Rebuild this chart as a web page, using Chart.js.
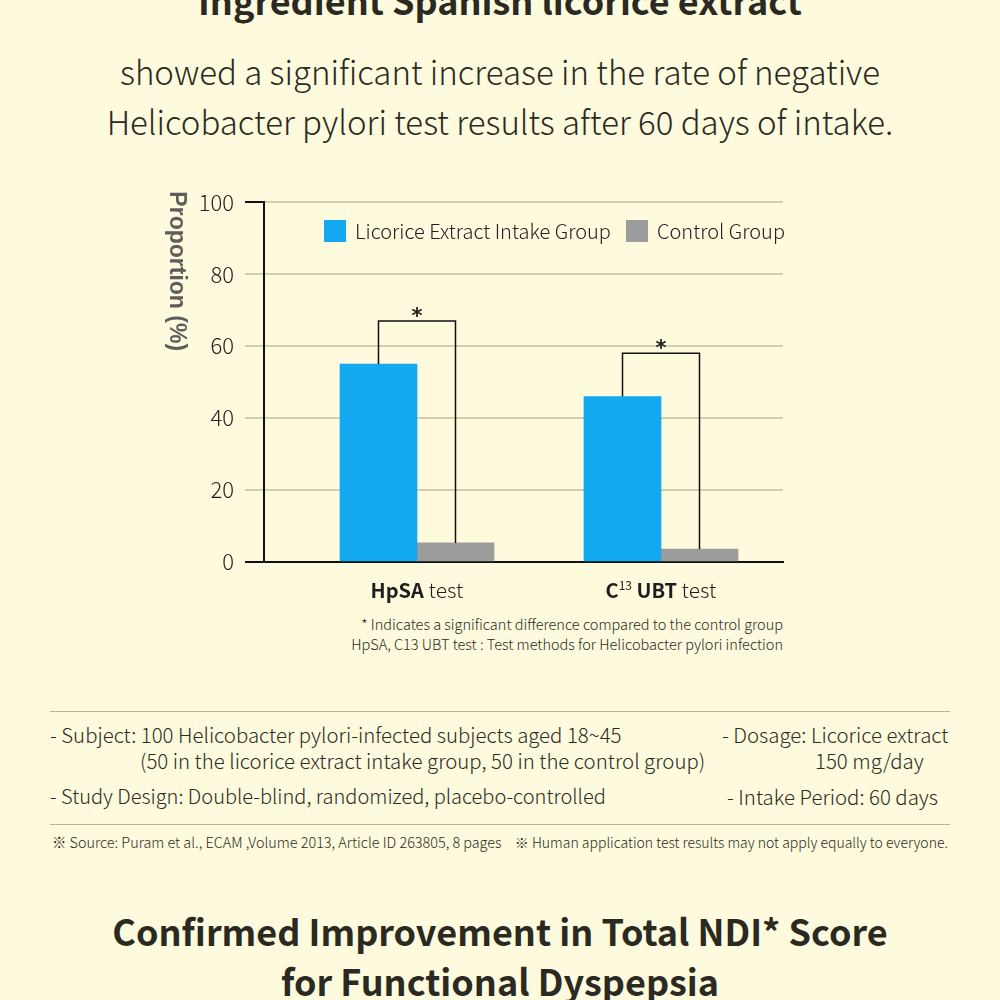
<!DOCTYPE html>
<html>
<head>
<meta charset="utf-8">
<script src="https://cdn.jsdelivr.net/npm/chart.js@4.4.0/dist/chart.umd.min.js"></script>
<style>
  html, body { margin: 0; padding: 0; }
  body {
    width: 1000px; height: 1000px; overflow: hidden; position: relative;
    background: #fdfadd; color: #2b2a22;
    font-family: 'Noto Sans CJK KR', 'Noto Sans', sans-serif;
  }
  .t { position: absolute; line-height: 1; white-space: nowrap; }
  .center { left: 0; width: 1000px; text-align: center; }
  .rule { position: absolute; left: 50px; width: 900px; height: 1px; background: #bdb592; }
  #chartBox { position: absolute; left: 150px; top: 178px; width: 650px; height: 430px; }
  #legend { position: absolute; right: 215px; top: 220px; display: flex; gap: 15px; }
  #legend .item { display: flex; align-items: center; font-size: 20px; font-weight: 300; line-height: 22px; color: #222; }
  #legend .box { width: 22px; height: 22px; margin-right: 9px; }
</style>
</head>
<body>

<div class="t center" style="top:-19px; font-size:36px; font-weight:700;">Ingredient Spanish licorice extract</div>
<div class="t center" style="top:55px; font-size:33px; font-weight:300;">showed a significant increase in the rate of negative</div>
<div class="t center" style="top:105px; font-size:33px; font-weight:300;">Helicobacter pylori test results after 60 days of intake.</div>

<div id="chartBox"><canvas id="grafico" width="650" height="430"></canvas></div>
<div id="legend"></div>

<div class="t" style="top:617px; right:217px; font-size:14.5px; font-weight:300; text-align:right;">* Indicates a significant difference compared to the control group</div>
<div class="t" style="top:637px; right:217px; font-size:14.5px; font-weight:300; text-align:right;">HpSA, C13 UBT test : Test methods for Helicobacter pylori infection</div>

<div class="rule" style="top:711px;"></div>
<div class="t" style="top:724px; left:50px; font-size:20.4px; font-weight:300;">- Subject: 100 Helicobacter pylori-infected subjects aged 18~45</div>
<div class="t" style="top:750px; left:140px; font-size:20.4px; font-weight:300;">(50 in the licorice extract intake group, 50 in the control group)</div>
<div class="t" style="top:786px; left:50px; font-size:20px; font-weight:300;">- Study Design: Double-blind, randomized, placebo-controlled</div>
<div class="t" style="top:724px; left:722px; font-size:20.4px; font-weight:300;">- Dosage: Licorice extract</div>
<div class="t" style="top:750px; left:815px; font-size:20.4px; font-weight:300;">150 mg/day</div>
<div class="t" style="top:786px; left:727px; font-size:20.4px; font-weight:300;">- Intake Period: 60 days</div>
<div class="rule" style="top:824px;"></div>
<div class="t" style="top:835px; left:52px; font-size:14.4px; font-weight:300;">※ Source: Puram et al., ECAM ,Volume 2013, Article ID 263805, 8 pages</div>
<div class="t" style="top:835px; right:52px; font-size:14px; font-weight:300;">※ Human application test results may not apply equally to everyone.</div>

<div class="t center" style="top:912px; font-size:36px; font-weight:700;">Confirmed Improvement in Total NDI* Score</div>
<div class="t center" style="top:962px; font-size:36px; font-weight:700;">for Functional Dyspepsia</div>

<script>
// Datos del gráfico
const categories = ['HpSA test', 'C13 UBT test'];
const seriesNames = ['Licorice Extract Intake Group', 'Control Group'];
const licoriceGroup = [55, 46];
const controlGroup = [5.3, 3.6];
const bracketTops = [67, 58];
const yTicks = [0, 20, 40, 60, 80, 100];
const yTitle = 'Proportion (%)';

// partes del texto de cada categoría: [texto, estilo]
const categoryParts = [
  [['HpSA', 'b'], [' test', 'n']],
  [['C', 'b'], ['13', 'sup'], [' UBT', 'b'], [' test', 'n']]
];

const FONT = '"Noto Sans CJK KR", "Noto Sans", sans-serif';
const AZUL = '#13a9f0';
const GRIS = '#9c9c9c';
const LINEA = '#d5cea8';

const partFonts = {
  b: '700 20px ' + FONT,
  n: '300 21px ' + FONT,
  sup: '400 12px ' + FONT
};

// Corchetes, asteriscos, título del eje y etiquetas de categoría
const extras = {
  id: 'extras',
  afterDatasetsDraw(chart) {
    const { ctx, scales: { y } } = chart;
    const m0 = chart.getDatasetMeta(0);
    const m1 = chart.getDatasetMeta(1);
    ctx.save();
    ctx.strokeStyle = '#111';
    ctx.lineWidth = 1.5;
    ctx.fillStyle = '#222';
    ctx.font = 'bold 21px "DejaVu Sans", sans-serif';
    ctx.textAlign = 'center';
    ctx.textBaseline = 'alphabetic';
    bracketTops.forEach((v, i) => {
      const a = m0.data[i], b = m1.data[i];
      const top = y.getPixelForValue(v);
      ctx.beginPath();
      ctx.moveTo(a.x, a.y);
      ctx.lineTo(a.x, top);
      ctx.lineTo(b.x, top);
      ctx.lineTo(b.x, b.y);
      ctx.stroke();
      ctx.fillText('*', (a.x + b.x) / 2, top + 2);
    });
    ctx.restore();
  },
  afterDraw(chart) {
    const { ctx, chartArea, scales: { x } } = chart;
    ctx.save();
    // título del eje Y, girado 90 grados
    ctx.translate(chartArea.left - 88, chartArea.top + 69);
    ctx.rotate(Math.PI / 2);
    ctx.font = 'bold 23px "Liberation Sans", Arial, sans-serif';
    ctx.fillStyle = '#5d5d5d';
    ctx.textAlign = 'center';
    ctx.textBaseline = 'middle';
    ctx.fillText(yTitle, 0, 0);
    ctx.restore();

    ctx.save();
    ctx.fillStyle = '#1e1e1e';
    ctx.textBaseline = 'alphabetic';
    ctx.textAlign = 'left';
    categoryParts.forEach((parts, i) => {
      let total = 0;
      parts.forEach(([txt, st]) => { ctx.font = partFonts[st]; total += ctx.measureText(txt).width; });
      let cx = x.getPixelForValue(i + 1) - total / 2;
      const base = chartArea.bottom + 36;
      parts.forEach(([txt, st]) => {
        ctx.font = partFonts[st];
        ctx.fillText(txt, cx, st === 'sup' ? base - 8 : base);
        cx += ctx.measureText(txt).width;
      });
    });
    ctx.restore();
  }
};

const ctx = document.getElementById('grafico').getContext('2d');
const chart = new Chart(ctx, {
  type: 'bar',
  data: {
    labels: categories,
    datasets: [
      {
        label: seriesNames[0],
        data: licoriceGroup.map((v, i) => ({ x: i + 1, y: v })),
        backgroundColor: AZUL,
        borderWidth: 0,
        barThickness: 77
      },
      {
        label: seriesNames[1],
        data: controlGroup.map((v, i) => ({ x: i + 1, y: v })),
        backgroundColor: GRIS,
        borderWidth: 0,
        barThickness: 77
      }
    ]
  },
  options: {
    responsive: false,
    animation: false,
    devicePixelRatio: 1,
    layout: { padding: { top: 18, right: 17, left: 0, bottom: 0 } },
    plugins: {
      legend: { display: false },
      tooltip: { enabled: false }
    },
    scales: {
      x: {
        type: 'linear',
        min: 0.373,
        max: 2.5,
        bounds: 'data',
        offset: false,
        grid: { display: false },
        ticks: { display: false },
        border: { display: true, color: '#111', width: 2 },
        afterFit: s => { s.height = 46; }
      },
      y: {
        min: 0,
        max: 100,
        afterBuildTicks: s => { s.ticks = yTicks.map(v => ({ value: v })); },
        grid: {
          color: c => (c.tick && c.tick.value === 0 ? '#111' : LINEA),
          tickColor: c => (c.tick && (c.tick.value === 0 || c.tick.value === 100) ? '#111' : LINEA),
          lineWidth: 2,
          tickLength: 19
        },
        border: { display: true, color: '#111', width: 2 },
        ticks: {
          padding: 11,
          color: '#222',
          font: { family: FONT, size: 22, weight: 300 }
        },
        afterFit: s => { s.width = 114; }
      }
    }
  },
  plugins: [extras]
});

// Leyenda en HTML a partir de los datasets
const legendEl = document.getElementById('legend');
Chart.defaults.plugins.legend.labels.generateLabels(chart).forEach(item => {
  const div = document.createElement('div');
  div.className = 'item';
  div.innerHTML = `<span class="box" style="background:${item.fillStyle}"></span>${item.text}`;
  legendEl.appendChild(div);
});
</script>
</body>
</html>
